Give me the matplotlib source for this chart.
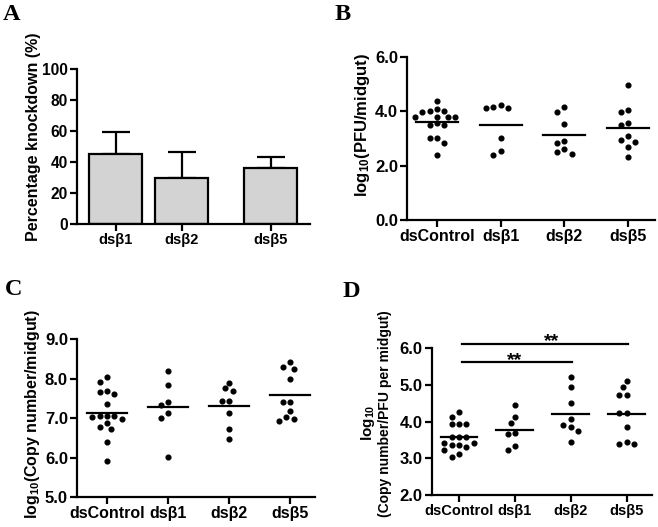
import numpy as np
import matplotlib
matplotlib.use('Agg')
import matplotlib.pyplot as plt

plt.rcParams['font.family'] = ['Liberation Sans', 'DejaVu Sans']
plt.rcParams['font.weight'] = 'bold'
plt.rcParams['mathtext.fontset'] = 'custom'
plt.rcParams['mathtext.rm'] = 'Liberation Sans:bold'
plt.rcParams['mathtext.bf'] = 'Liberation Sans:bold'
plt.rcParams['mathtext.it'] = 'Liberation Sans:bold'
plt.rcParams['mathtext.default'] = 'rm'

# ---------------- data ----------------
cats_A = ['dsβ1', 'dsβ2', 'dsβ5']
knockdown = [45.4, 29.9, 35.9]
knockdown_err = [13.7, 16.3, 7.5]

groups = ['dsControl', 'dsβ1', 'dsβ2', 'dsβ5']

pfu_dsControl = [4.37, 4.08, 4.00, 3.98, 4.00, 3.77, 3.77, 3.80, 3.77, 3.55, 3.50, 3.50, 3.02, 3.02, 2.82, 2.40]
pfu_dsb1 = [4.16, 4.10, 4.10, 4.22, 3.02, 2.40, 2.53]
pfu_dsb2 = [4.16, 3.98, 3.51, 2.90, 2.82, 2.61, 2.41, 2.49]
pfu_dsb5 = [4.96, 3.96, 4.04, 3.55, 3.48, 3.09, 2.88, 2.94, 2.69, 2.30]

copy_dsControl = [8.03, 7.92, 7.67, 7.61, 7.69, 7.37, 7.06, 7.02, 6.88, 6.97, 7.06, 7.06, 6.72, 6.78, 6.40, 5.92]
copy_dsb1 = [8.18, 7.84, 7.33, 7.42, 7.14, 7.00, 6.03]
copy_dsb2 = [7.90, 7.69, 7.75, 7.43, 7.43, 7.14, 6.73, 6.47]
copy_dsb5 = [8.41, 8.25, 8.30, 7.98, 7.40, 7.40, 7.19, 7.02, 6.94, 6.98]

ratio_dsControl = [4.25, 4.14, 3.94, 3.94, 3.94, 3.59, 3.57, 3.57, 3.43, 3.43, 3.36, 3.36, 3.30, 3.23, 3.11, 3.04]
ratio_dsb1 = [4.45, 4.14, 3.96, 3.68, 3.66, 3.34, 3.23]
ratio_dsb2 = [5.23, 4.94, 4.52, 4.06, 3.85, 3.92, 3.75, 3.44]
ratio_dsb5 = [5.11, 4.95, 4.73, 4.73, 4.24, 4.24, 3.86, 3.45, 3.39, 3.39]

sig_pairs = [(0, 2, '**'), (0, 3, '**')]

# ---------------- layout ----------------
W, H = 658, 527
fig = plt.figure(figsize=(W / 100, H / 100), dpi=100)


def px_axes(l, r, b, t):
    return fig.add_axes([l / W, 1 - b / H, (r - l) / W, (b - t) / H])


LW = 1.6


def style(ax, ylim, yticks, fmt, tick_fs):
    ax.spines['top'].set_visible(False)
    ax.spines['right'].set_visible(False)
    for s in ['left', 'bottom']:
        ax.spines[s].set_linewidth(LW)
    ax.set_ylim(*ylim)
    ax.set_yticks(yticks)
    ax.set_yticklabels([fmt.format(v) for v in yticks], fontsize=tick_fs, fontweight='bold')
    ax.tick_params(axis='both', direction='out', length=5, width=LW, pad=1.5)


def beeswarm(ax, xc, vals, step_px=7.3, diam_px=6.8):
    fig_w = ax.get_position().width * W
    fig_h = ax.get_position().height * H
    x0, x1 = ax.get_xlim()
    y0, y1 = ax.get_ylim()
    sx = fig_w / (x1 - x0)
    sy = fig_h / (y1 - y0)
    placed = []
    order = np.argsort(vals)[::-1]
    xs = np.zeros(len(vals))
    cand = [0]
    for k in range(1, 8):
        cand += [-k * 0.5, k * 0.5]
    for i in order:
        ypx = vals[i] * sy
        xpx = 0.0
        for c in cand:
            xpx = c * step_px
            ok = True
            for (px, py) in placed:
                if (px - xpx) ** 2 + (py - ypx) ** 2 < diam_px ** 2:
                    ok = False
                    break
            if ok:
                break
        placed.append((xpx, ypx))
        xs[i] = xc + xpx / sx
    ax.plot(xs, vals, 'o', color='black', markersize=3.4, zorder=3, clip_on=False)


def scatter_panel(ax, data, xlim, cat_fs):
    ax.set_xlim(*xlim)
    for i, vals in enumerate(data):
        vals = np.asarray(vals)
        beeswarm(ax, i, vals)
        m = vals.mean()
        ax.plot([i - 0.33, i + 0.33], [m, m], color='black', lw=1.6, zorder=2)
    ax.set_xticks(range(len(groups)))
    ax.set_xticklabels(groups, fontsize=cat_fs, fontweight='bold')


# Panel A
axA = px_axes(77, 310, 224, 69)
xA = [0, 1, 2.35]
axA.set_xlim(-0.587, 2.947)
axA.errorbar(xA, knockdown, yerr=[np.zeros(3), knockdown_err], fmt='none', ecolor='black',
             elinewidth=LW, capsize=10, capthick=LW, zorder=1)
axA.bar(xA, knockdown, width=0.8, color='#d3d3d3', edgecolor='black', linewidth=LW, zorder=2)
style(axA, (0, 100), [0, 20, 40, 60, 80, 100], '{:.0f}', 11.2)
axA.set_xticks(xA)
axA.set_xticklabels(cats_A, fontsize=10.5, fontweight='bold')
fig.text(34 / W, 1 - 137 / H, 'Percentage knockdown (%)', rotation=90, ha='center', va='center',
         fontsize=11.5, fontweight='bold')

# Panel B
axB = px_axes(407, 655, 220, 56.7)
style(axB, (0, 6), [0, 2, 4, 6], '{:.1f}', 12)
scatter_panel(axB, [pfu_dsControl, pfu_dsb1, pfu_dsb2, pfu_dsb5], (-0.471, 3.425), 11.5)
fig.text(362 / W, 1 - 125 / H, r'log$_{10}$(PFU/midgut)', rotation=90, ha='center', va='center',
         fontsize=12, fontweight='bold')

# Panel C
axC = px_axes(77, 315, 497.3, 339)
style(axC, (5, 9), [5, 6, 7, 8, 9], '{:.1f}', 12)
scatter_panel(axC, [copy_dsControl, copy_dsb1, copy_dsb2, copy_dsb5], (-0.491, 3.41), 11.5)
fig.text(33 / W, 1 - 414 / H, r'log$_{10}$(Copy number/midgut)', rotation=90, ha='center', va='center',
         fontsize=11.5, fontweight='bold')

# Panel D
axD = px_axes(431.7, 651.7, 495, 348.3)
style(axD, (2, 6), [2, 3, 4, 5, 6], '{:.1f}', 12)
scatter_panel(axD, [ratio_dsControl, ratio_dsb1, ratio_dsb2, ratio_dsb5], (-0.49, 3.45), 10.5)
fig.text(368 / W, 1 - 423 / H, r'log$_{10}$', rotation=90, ha='center', va='center',
         fontsize=11, fontweight='bold')
fig.text(385 / W, 1 - 414 / H, '(Copy number/PFU per midgut)', rotation=90, ha='center', va='center',
         fontsize=10, fontweight='bold')

sig_y = [5.62, 6.12]
star_x = [1.0, 1.65]
for (a, b, lab), yy, sx in zip(sig_pairs, sig_y, star_x):
    axD.plot([a + 0.05, b + 0.02], [yy, yy], color='black', lw=LW, clip_on=False)
    axD.text(sx, yy - 0.07, lab, ha='center', va='baseline', fontsize=14, fontweight='bold', clip_on=False)

# Panel letters
for lab, x, y in [('A', 3, 20), ('B', 335, 20), ('C', 5, 295), ('D', 343, 297)]:
    fig.text(x / W, 1 - y / H, lab, ha='left', va='baseline', fontsize=17.5, fontweight='bold',
             family=['Liberation Serif', 'DejaVu Serif'])

fig.savefig('out.png', dpi=100)
